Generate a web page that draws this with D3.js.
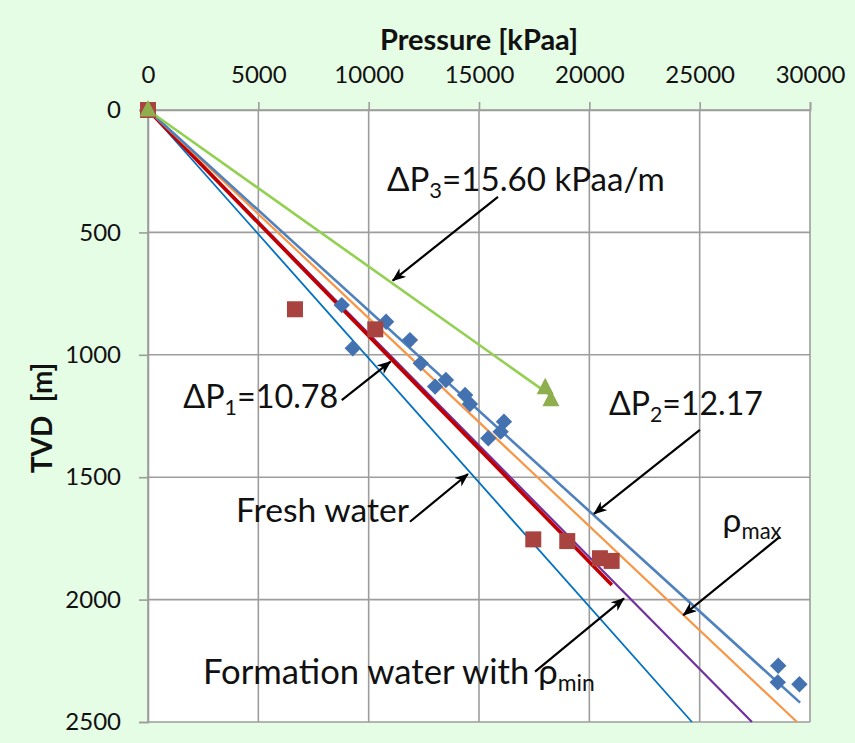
<!DOCTYPE html>
<html>
<head>
<meta charset="utf-8">
<script src="https://cdn.jsdelivr.net/npm/d3@7"></script>
<style>
  body { margin: 0; background: #e5fce5; }
  svg { display: block; font-family: Lato, "Open Sans", sans-serif; }
</style>
</head>
<body>
<svg id="chart" width="855" height="743"></svg>
<script>
// axis ticks
const pressureTicks = [0, 5000, 10000, 15000, 20000, 25000, 30000];
const depthTicks = [0, 500, 1000, 1500, 2000, 2500];

// blue diamonds (pressure kPaa, TVD m)
const diamondPressure = [8780, 10790, 9280, 11870, 12360, 13500, 13010, 14370, 14590, 16130, 15980, 15420, 28560, 28540, 29520];
const diamondDepth = [797, 865, 973, 940, 1035, 1103, 1130, 1164, 1201, 1273, 1314, 1341, 2270, 2338, 2346];

// red squares
const squarePressure = [0, 6660, 10300, 17460, 19000, 20480, 21010];
const squareDepth = [0, 814, 896, 1754, 1761, 1831, 1842];

// green triangles
const trianglePressure = [0, 18000, 18260];
const triangleDepth = [0, 1135, 1184];

// gradient lines from the origin: end point of each
const lineNames = ['fresh', 'rhoMin', 'dp1', 'rhoMax', 'dp2', 'dp3'];
const lineEndPressure = [24650, 27370, 21020, 29410, 29550, 18300];
const lineEndDepth = [2500, 2500, 1940, 2500, 2421, 1170];

const lineStyle = {
    fresh:  { color: '#0070c0', width: 1.8 },
    rhoMin: { color: '#7030a0', width: 2.2 },
    dp1:    { color: '#c00000', width: 3.6 },
    rhoMax: { color: '#f79646', width: 2.2 },
    dp2:    { color: '#4f81bd', width: 2.6 },
    dp3:    { color: '#92d050', width: 2.6 }
};

const width = 855;
const height = 743;
const margin = { top: 110, right: 45, bottom: 21, left: 148 };
const plotW = width - margin.left - margin.right;
const plotH = height - margin.top - margin.bottom;

const svg = d3.select('#chart');

const x = d3.scaleLinear().domain([0, 30000]).range([0, plotW]);
const y = d3.scaleLinear().domain([0, 2500]).range([0, plotH]);

const g = svg.append('g')
    .attr('transform', `translate(${margin.left},${margin.top})`);

g.append('rect')
    .attr('width', plotW)
    .attr('height', plotH)
    .attr('fill', '#fff');

// grid
g.append('g')
    .selectAll('line')
    .data(pressureTicks)
    .enter().append('line')
    .attr('x1', d => x(d)).attr('x2', d => x(d))
    .attr('y1', 0).attr('y2', plotH)
    .attr('stroke', '#9d9d9d').attr('stroke-width', 1.6);

g.append('g')
    .selectAll('line')
    .data(depthTicks)
    .enter().append('line')
    .attr('x1', 0).attr('x2', plotW)
    .attr('y1', d => y(d)).attr('y2', d => y(d))
    .attr('stroke', '#9d9d9d').attr('stroke-width', 1.6);

// axes
const xAxis = g.append('g')
    .call(d3.axisTop(x).tickValues(pressureTicks).tickFormat(d3.format('d')).tickSize(8).tickPadding(19));

const yAxis = g.append('g')
    .call(d3.axisLeft(y).tickValues(depthTicks).tickFormat(d3.format('d')).tickSize(9).tickPadding(18));

[xAxis, yAxis].forEach(ax => {
    ax.select('.domain').attr('stroke', '#9d9d9d').attr('stroke-width', 1.6);
    ax.selectAll('.tick line').attr('stroke', '#9d9d9d').attr('stroke-width', 1.6);
    ax.selectAll('.tick text')
        .attr('fill', '#111')
        .style('font-family', 'Lato, "Open Sans", sans-serif')
        .style('font-size', '24px');
});

// axis titles
svg.append('text')
    .attr('x', margin.left + x(15000))
    .attr('y', 50)
    .attr('text-anchor', 'middle')
    .style('font-weight', 'bold')
    .style('font-size', '29px')
    .attr('fill', '#111')
    .text('Pressure [kPaa]');

svg.append('text')
    .attr('transform', 'translate(52,418) rotate(-90)')
    .attr('text-anchor', 'middle')
    .style('font-weight', 'bold')
    .style('font-size', '28px')
    .style('white-space', 'pre')
    .attr('fill', '#111')
    .text('TVD  [m]');

// gradient lines
const lineData = lineNames.map((name, i) => ({
    name,
    points: [[0, 0], [lineEndPressure[i], lineEndDepth[i]]]
}));

const lineGen = d3.line().x(d => x(d[0])).y(d => y(d[1]));

g.append('g')
    .selectAll('path')
    .data(lineData)
    .enter().append('path')
    .attr('d', d => lineGen(d.points))
    .attr('fill', 'none')
    .attr('stroke', d => lineStyle[d.name].color)
    .attr('stroke-width', d => lineStyle[d.name].width);

// markers
const diamonds = diamondPressure.map((p, i) => [p, diamondDepth[i]]);
const squares = squarePressure.map((p, i) => [p, squareDepth[i]]);
const triangles = trianglePressure.map((p, i) => [p, triangleDepth[i]]);

g.append('g')
    .selectAll('path')
    .data(diamonds)
    .enter().append('path')
    .attr('transform', d => `translate(${x(d[0])},${y(d[1])}) rotate(45)`)
    .attr('d', 'M-5.8,-5.8H5.8V5.8H-5.8Z')
    .attr('fill', '#4472b0');

g.append('g')
    .selectAll('rect')
    .data(squares)
    .enter().append('rect')
    .attr('x', d => x(d[0]) - 8)
    .attr('y', d => y(d[1]) - 8)
    .attr('width', 16)
    .attr('height', 16)
    .attr('fill', '#a9433f');

g.append('g')
    .selectAll('path')
    .data(triangles)
    .enter().append('path')
    .attr('transform', d => `translate(${x(d[0])},${y(d[1])})`)
    .attr('d', 'M0,-10L8.5,6.5H-8.5Z')
    .attr('fill', '#8fae4e');

// annotations (text anchor = left/baseline, arrow from -> to), in data units
const annotations = [
    { parts: [['ΔP', 0], ['3', 1], ['=15.60 kPaa/m', 0]], tx: 10830, ty: 331, w: 278, from: [15860, 355], to: [11090, 697] },
    { parts: [['ΔP', 0], ['1', 1], ['=10.78', 0]], tx: 1600, ty: 1217, w: 155, from: [8780, 1185], to: [10990, 1028] },
    { parts: [['Fresh water', 0]], tx: 3990, ty: 1682, w: 173, from: [11870, 1682], to: [14500, 1487] },
    { parts: [['ΔP', 0], ['2', 1], ['=12.17', 0]], tx: 20890, ty: 1246, w: 154, from: [25010, 1307], to: [20210, 1650] },
    { parts: [['ρ', 0], ['max', 1]], tx: 26040, ty: 1722, w: 59, from: [28640, 1743], to: [24260, 2063] },
    { parts: [['Formation water with ρ', 0], ['min', 1]], tx: 2490, ty: 2345, w: 392, from: [17540, 2294], to: [21570, 1995] }
];

svg.append('defs').append('marker')
    .attr('id', 'arrow')
    .attr('markerUnits', 'userSpaceOnUse')
    .attr('markerWidth', 14)
    .attr('markerHeight', 12)
    .attr('refX', 13)
    .attr('refY', 5.5)
    .attr('orient', 'auto')
    .append('path')
    .attr('d', 'M0,0L14,5.5L0,11L4,5.5Z')
    .attr('fill', '#000');

const ann = g.append('g');

annotations.forEach(a => {
    ann.append('line')
        .attr('x1', x(a.from[0])).attr('y1', y(a.from[1]))
        .attr('x2', x(a.to[0])).attr('y2', y(a.to[1]))
        .attr('stroke', '#000')
        .attr('stroke-width', 2.2)
        .attr('marker-end', 'url(#arrow)');

    const t = ann.append('text')
        .attr('x', x(a.tx))
        .attr('y', y(a.ty))
        .attr('fill', '#111')
        .style('font-size', '30px');

    let shifted = false;
    a.parts.forEach(p => {
        const span = t.append('tspan').text(p[0]);
        if (p[1]) {
            span.style('font-size', '0.66em').attr('dy', '0.32em');
            shifted = true;
        } else if (shifted) {
            span.attr('dy', '-0.21em');
            shifted = false;
        }
    });

    // scale font so the label spans the same width as in the original
    const len = t.node().getComputedTextLength();
    t.style('font-size', (30 * a.w / len) + 'px');
});
</script>
</body>
</html>
